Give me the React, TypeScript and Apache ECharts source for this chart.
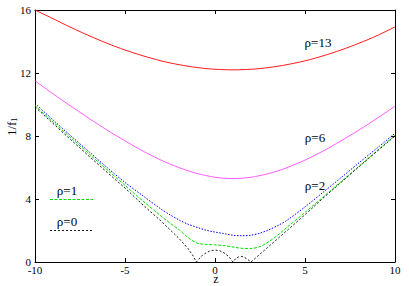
import React, { useEffect, useRef } from "react";
import * as echarts from "echarts";

// z grid shared by the four smooth curves
const zGrid = [-10, -9, -8, -7, -6, -5, -4, -3, -2.5, -2, -1.5, -1, -0.5, 0, 0.5, 1, 1.5, 2, 2.5, 3, 3.5, 4, 5, 6, 7, 8, 9, 10];
const rho13 = [16.0, 15.45, 14.89, 14.37, 13.89, 13.46, 13.09, 12.77, 12.64, 12.53, 12.43, 12.35, 12.28, 12.24, 12.21, 12.2, 12.21, 12.24, 12.28, 12.35, 12.43, 12.53, 12.77, 13.09, 13.46, 13.89, 14.37, 14.93];
const rho6 = [11.5, 10.68, 9.89, 9.12, 8.38, 7.69, 7.04, 6.47, 6.22, 5.99, 5.79, 5.62, 5.49, 5.38, 5.32, 5.3, 5.32, 5.38, 5.49, 5.62, 5.79, 5.99, 6.47, 7.04, 7.69, 8.38, 9.12, 9.89];
const rho2 = [10.07, 9.02, 8.0, 7.0, 6.0, 5.05, 4.2, 3.36, 3.0, 2.67, 2.4, 2.2, 2.02, 1.9, 1.8, 1.7, 1.67, 1.7, 1.83, 2.05, 2.32, 2.65, 3.5, 4.42, 5.35, 6.3, 7.23, 8.17];
const rho1 = [9.93, 8.9, 7.88, 6.87, 5.86, 4.87, 3.87, 2.92, 2.47, 2.05, 1.55, 1.2, 1.12, 1.09, 1.04, 0.95, 0.87, 0.86, 0.98, 1.3, 1.72, 2.2, 3.15, 4.12, 5.1, 6.08, 7.06, 8.05];
// rho = 0 has cusps, so it gets its own denser grid
const zRho0 = [-10, -9, -8, -7, -6, -5, -4, -3, -2.5, -2, -1.5, -1.25, -1.03, -0.75, -0.5, -0.25, 0, 0.25, 0.5, 0.75, 1.0, 1.15, 1.3, 1.45, 1.6, 1.8, 2.0, 2.25, 2.5, 3, 3.5, 4, 5, 6, 7, 8, 9, 10];
const rho0 = [9.85, 8.8, 7.75, 6.72, 5.7, 4.7, 3.62, 2.6, 2.05, 1.5, 0.85, 0.45, 0, 0.38, 0.58, 0.72, 0.76, 0.72, 0.58, 0.36, 0, 0.22, 0.32, 0.36, 0.32, 0.18, 0, 0.25, 0.5, 1.0, 1.5, 2.0, 3.0, 4.05, 5.05, 6.05, 7.03, 8.0];

const xTicks = { min: -10, max: 10, interval: 5 };
const yTicks = { min: 0, max: 16, interval: 4 };

const FONT = "Liberation Serif";

const pairs = (xs: number[], ys: number[]) => xs.map((x, i) => [x, ys[i]]);

export default function App() {
  const ref = useRef<HTMLDivElement>(null);
  useEffect(() => {
    if (!ref.current) return;
    const chart = echarts.init(ref.current, null, { renderer: "svg" });
    const axisCommon = {
      type: "value" as const,
      splitLine: { show: false },
      axisLine: { show: true, onZero: false, lineStyle: { color: "#000", width: 1 } },
      axisTick: { show: true, inside: true, length: 4, lineStyle: { color: "#000", width: 1 } },
    };
    const labelStyle = { color: "#000", fontSize: 11, fontFamily: FONT, showMinLabel: true, showMaxLabel: true };
    const line = (name: string, data: number[][], color: string, type: any, width: number, smooth: number | boolean) => ({
      name,
      type: "line",
      data,
      showSymbol: false,
      symbol: "none",
      smooth,
      lineStyle: { color, width, type },
      silent: true,
    });
    const txt = (text: string, x: number, y: number, fontSize = 13) => ({
      type: "text",
      x,
      y,
      style: { text, fontSize, fontFamily: FONT, fill: "#000", align: "center", verticalAlign: "middle", lineHeight: 10 },
    });
    chart.setOption({
      animation: false,
      textStyle: { fontFamily: FONT },
      grid: { left: 35, right: 14, top: 10, bottom: 24, outerBoundsMode: "none", containLabel: false },
      xAxis: [
        { ...axisCommon, ...xTicks, position: "bottom", axisLabel: { ...labelStyle, margin: 4, lineHeight: 8 } },
        { ...axisCommon, ...xTicks, position: "top", axisLabel: { show: false } },
      ],
      yAxis: [
        { ...axisCommon, ...yTicks, position: "left", axisLabel: { ...labelStyle, margin: 4, lineHeight: 7 } },
        { ...axisCommon, ...yTicks, position: "right", axisLabel: { show: false } },
      ],
      series: [
        line("ρ=13", pairs(zGrid, rho13), "#ff0000", "solid", 0.9, 0.3),
        line("ρ=6", pairs(zGrid, rho6), "#ff33ff", "solid", 0.8, 0.3),
        line("ρ=2", pairs(zGrid, rho2), "#0000ff", [1.5, 1.5], 1, 0.3),
        line("ρ=1", pairs(zGrid, rho1), "#00e000", [3, 1.5], 1, 0.3),
        line("ρ=0", pairs(zRho0, rho0), "#000000", [2, 2], 0.9, false),
      ],
      graphic: [
        txt("ρ=13", 318, 42),
        txt("ρ=6", 315, 137),
        txt("ρ=2", 315, 185),
        txt("ρ=1", 67, 190),
        { type: "line", shape: { x1: 50, y1: 199.5, x2: 93, y2: 199.5 }, style: { stroke: "#00e000", lineWidth: 1, lineDash: [3, 1.5] } },
        txt("ρ=0", 67, 221),
        { type: "line", shape: { x1: 50, y1: 230.5, x2: 93, y2: 230.5 }, style: { stroke: "#000", lineWidth: 0.9, lineDash: [2, 2] } },
        txt("z", 216, 279, 12),
        {
          type: "group",
          x: 11,
          y: 127,
          rotation: Math.PI / 2,
          children: [
            { type: "text", x: -9, y: 0, style: { text: "1/f", fontSize: 13, fontFamily: FONT, fill: "#000", align: "left", verticalAlign: "middle" } },
            { type: "text", x: 5, y: 3, style: { text: "1", fontSize: 9, fontFamily: FONT, fill: "#000", align: "left", verticalAlign: "middle" } },
          ],
        },
      ],
    });
    return () => chart.dispose();
  }, []);
  return <div ref={ref} style={{ position: "absolute", left: 0, top: 0, width: 409, height: 286 }} />;
}
